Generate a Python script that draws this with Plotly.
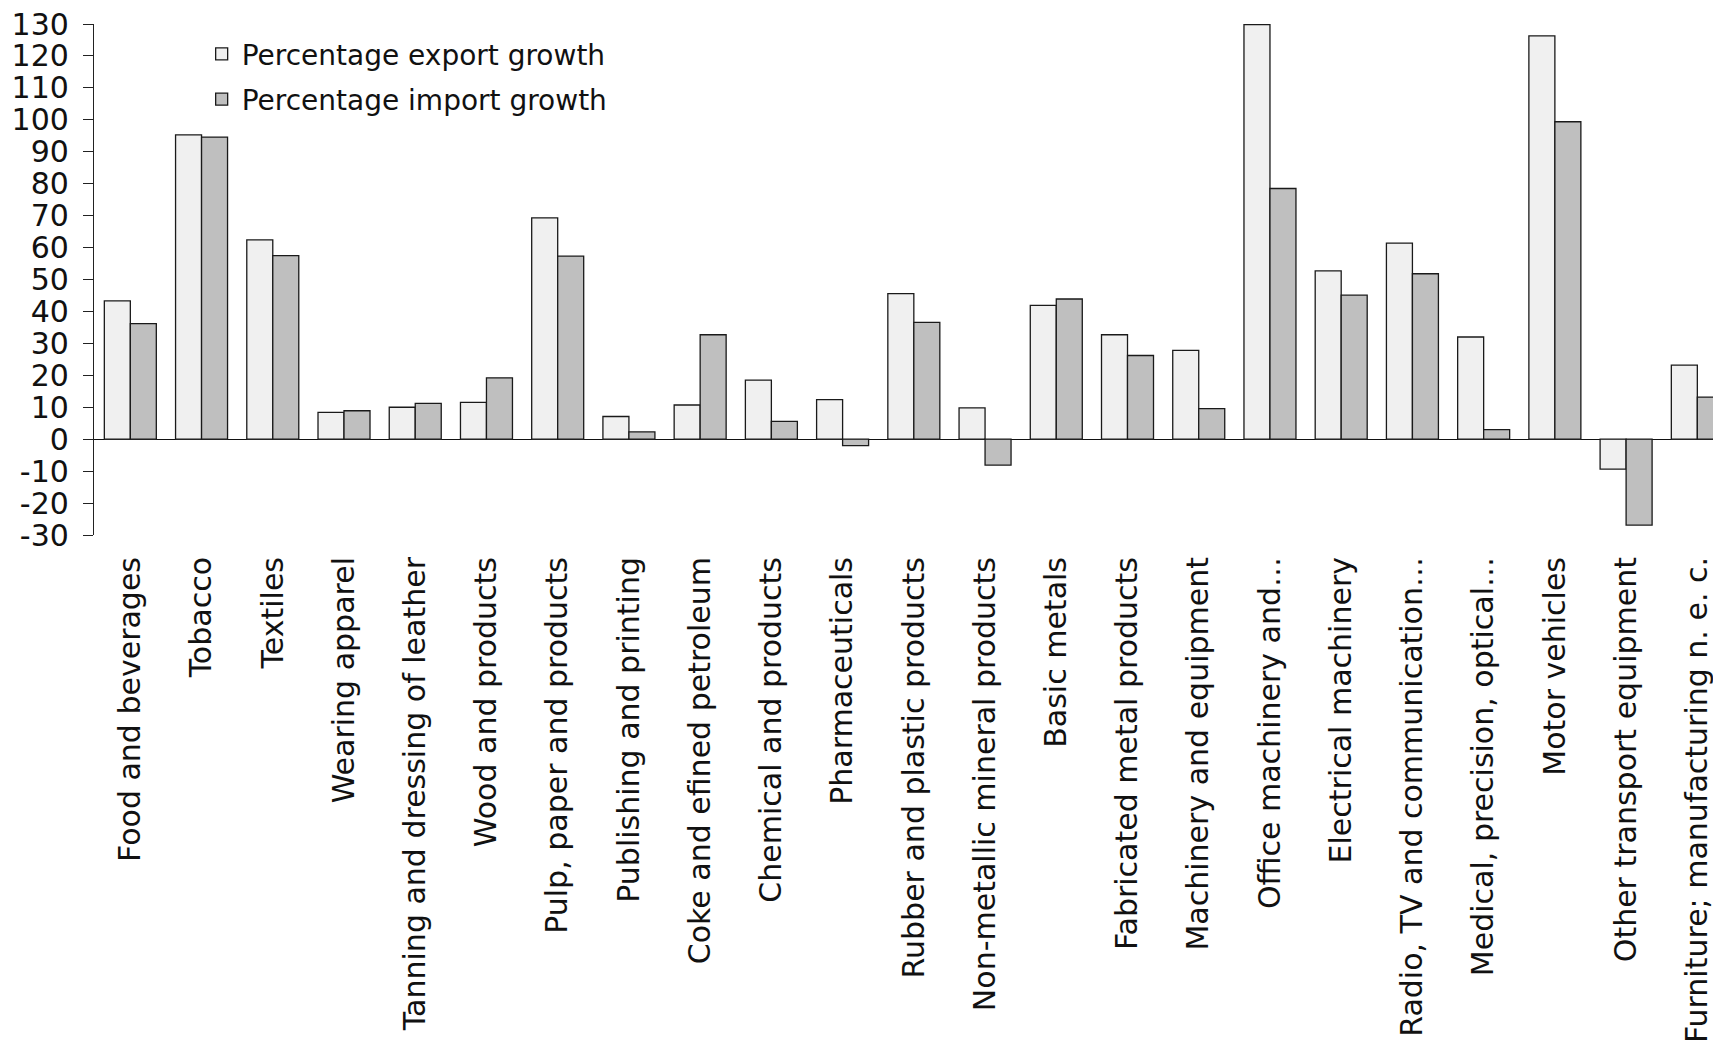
import plotly.graph_objects as go

# Sector labels (x axis)
sectors = [
    "Food and beverages",
    "Tobacco",
    "Textiles",
    "Wearing apparel",
    "Tanning and dressing of leather",
    "Wood and products",
    "Pulp, paper and products",
    "Publishing and printing",
    "Coke and efined petroleum",
    "Chemical and products",
    "Pharmaceuticals",
    "Rubber and plastic products",
    "Non-metallic mineral products",
    "Basic metals",
    "Fabricated metal products",
    "Machinery and equipment",
    "Office machinery and…",
    "Electrical machinery",
    "Radio, TV and communication…",
    "Medical, precision, optical…",
    "Motor vehicles",
    "Other transport equipment",
    "Furniture; manufacturing n. e. c.",
]

# Growth rates, in percent
export_growth = [43.3, 95.3, 62.4, 8.4, 10.0, 11.5, 69.3, 7.1, 10.7, 18.5, 12.4,
                 45.6, 9.8, 41.9, 32.7, 27.8, 129.8, 52.7, 61.4, 32.0, 126.3, -9.4, 23.2]
import_growth = [36.2, 94.6, 57.5, 8.9, 11.2, 19.2, 57.3, 2.3, 32.7, 5.6, -2.0,
                 36.6, -8.1, 43.9, 26.2, 9.6, 78.5, 45.1, 51.8, 3.0, 99.4, -26.9, 13.2]

y_ticks = list(range(-30, 131, 10))

FONT = "DejaVu Sans"

fig = go.Figure()
fig.add_trace(go.Bar(
    x=list(range(len(sectors))), y=export_growth,
    name="Percentage export growth", legendgroup="exp",
    marker=dict(color="#f0f0f0", line=dict(color="#1a1a1a", width=1.3)),
))
fig.add_trace(go.Bar(
    x=list(range(len(sectors))), y=import_growth,
    name="Percentage import growth", legendgroup="imp",
    marker=dict(color="#bfbfbf", line=dict(color="#1a1a1a", width=1.3)),
))

fig.update_layout(
    width=1713, height=1052,
    margin=dict(l=94, r=0, t=24, b=517, pad=0),
    paper_bgcolor="white", plot_bgcolor="white",
    barmode="group", bargap=0.27, bargroupgap=0,
    font=dict(family=FONT, size=28, color="#111111"),
    showlegend=True,
    legend=dict(
        x=0.0665, y=0.99, xanchor="left", yanchor="top",
        bgcolor="rgba(0,0,0,0)", borderwidth=0,
        font=dict(family=FONT, size=28, color="#111111"),
        tracegroupgap=6, itemwidth=30,
    ),
)

fig.update_xaxes(
    range=[-0.51, 22.22],
    tickmode="array", tickvals=list(range(len(sectors))), ticktext=sectors,
    tickangle=-90, ticks="", showline=False, showgrid=False, zeroline=False,
    tickfont=dict(family=FONT, size=30, color="#111111"),
    ticklabelstandoff=15, ticklabeloverflow="allow",
)
fig.update_yaxes(
    range=[-30, 130],
    tickmode="array", tickvals=y_ticks, ticktext=[str(v) for v in y_ticks],
    ticks="outside", ticklen=10, tickwidth=1.3, tickcolor="#222222",
    showline=True, linecolor="#222222", linewidth=1.3,
    showgrid=False,
    zeroline=True, zerolinecolor="#111111", zerolinewidth=1.3,
    tickfont=dict(family=FONT, size=30, color="#111111"),
    ticklabelstandoff=8,
)

fig.write_html("out.html")
